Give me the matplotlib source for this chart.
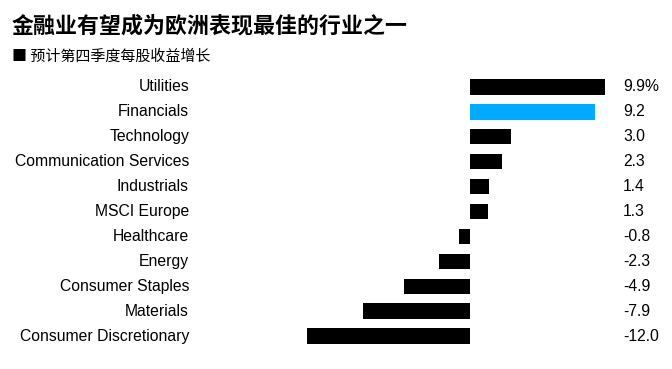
import matplotlib
matplotlib.use("Agg")
import matplotlib.pyplot as plt
from matplotlib.transforms import blended_transform_factory

categories = ["Utilities", "Financials", "Technology", "Communication Services",
              "Industrials", "MSCI Europe", "Healthcare", "Energy",
              "Consumer Staples", "Materials", "Consumer Discretionary"]
values = [9.9, 9.2, 3.0, 2.3, 1.4, 1.3, -0.8, -2.3, -4.9, -7.9, -12.0]
value_labels = ["9.9%", "9.2", "3.0", "2.3", "1.4", "1.3", "-0.8", "-2.3", "-4.9", "-7.9", "-12.0"]
highlight = "Financials"

title = "金融业有望成为欧洲表现最佳的行业之一"
subtitle = "预计第四季度每股收益增长"

W, H = 672, 369
fig = plt.figure(figsize=(W / 100, H / 100), dpi=100)
fig.patch.set_facecolor("white")

left_px, right_px = 307, 605
top_px, bot_px = 74.5, 348.5
ax = fig.add_axes([left_px / W, 1 - bot_px / H, (right_px - left_px) / W, (bot_px - top_px) / H])

ypos = list(range(len(categories)))
colors = ["#00AAFF" if c == highlight else "black" for c in categories]
ax.barh(ypos, values, height=0.62, color=colors)
ax.set_xlim(-12.0, 9.9)
ax.set_ylim(len(categories) - 0.5, -0.5)
ax.axis("off")

lab_font = ["Liberation Sans", "DejaVu Sans"]
trans = blended_transform_factory(fig.transFigure, ax.transData)
for y, c, vl in zip(ypos, categories, value_labels):
    fig.text(189 / W, y, c, transform=trans, ha="right", va="center",
             fontsize=11.3, family=lab_font, color="black")
    fig.text(623 / W, y, vl, transform=trans, ha="left", va="center",
             fontsize=11.3, family=lab_font, color="black")

cjk = ["Noto Sans CJK SC", "DejaVu Sans"]
fig.text(12 / W, 1 - 26 / H, title, ha="left", va="center", fontsize=15.8,
         fontweight="bold", family=cjk, color="black")
fig.text(12 / W, 1 - 57 / H, "■ " + subtitle, ha="left", va="center", fontsize=10.8,
         family=cjk, color="black")

fig.savefig("out.png", dpi=100, facecolor="white")
